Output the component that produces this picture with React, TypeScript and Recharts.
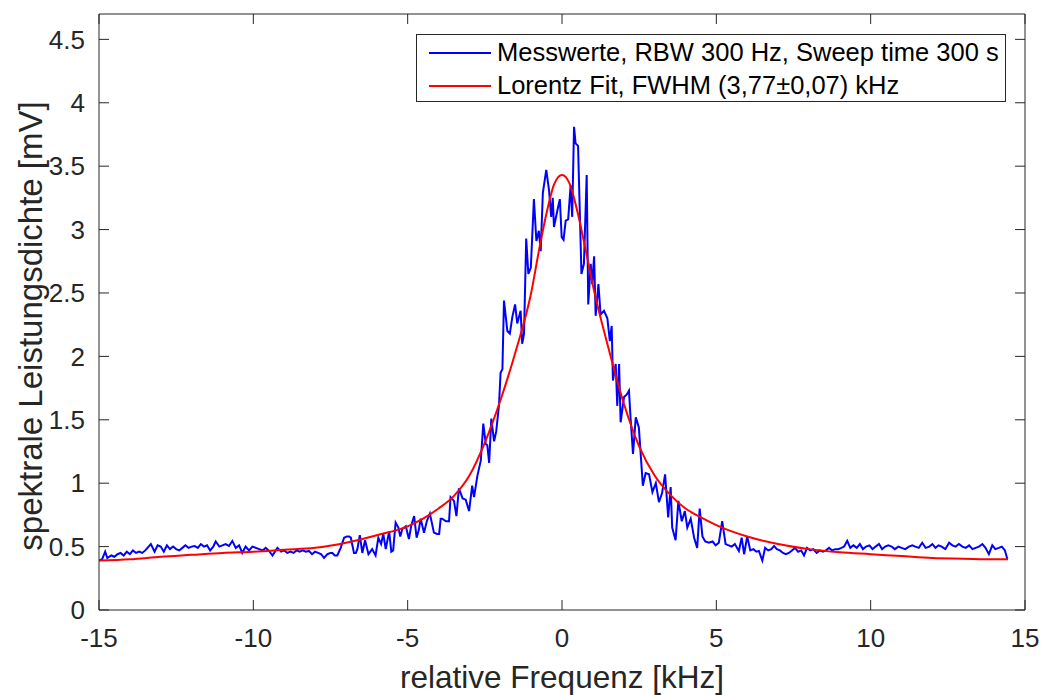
import React from 'react';
import { LineChart, Line, XAxis, YAxis, Label } from 'recharts';

const measFreq = [
  -15.0, -14.9, -14.8, -14.73, -14.6, -14.5, -14.4, -14.3, -14.2, -14.1, -14.0, -13.9, -13.8, -13.7, -13.6, -13.5,
  -13.43, -13.32, -13.2, -13.1, -13.0, -12.9, -12.8, -12.7, -12.6, -12.5, -12.4, -12.3, -12.2, -12.1, -12.0, -11.9,
  -11.8, -11.7, -11.6, -11.5, -11.4, -11.3, -11.22, -11.1, -11.0, -10.9, -10.79, -10.68, -10.57, -10.46, -10.36,
  -10.25, -10.14, -10.03, -9.92, -9.81, -9.7, -9.6, -9.49, -9.38, -9.22, -9.1, -9.0, -8.9, -8.8, -8.7, -8.6, -8.5,
  -8.4, -8.3, -8.2, -8.1, -8.0, -7.9, -7.8, -7.71, -7.6, -7.5, -7.44, -7.36, -7.28, -7.17, -7.06, -6.97, -6.9,
  -6.84, -6.74, -6.68, -6.63, -6.55, -6.47, -6.38, -6.27, -6.15, -6.04, -5.95, -5.86, -5.79, -5.71, -5.6, -5.53,
  -5.47, -5.39, -5.3, -5.24, -5.17, -5.06, -4.96, -4.88, -4.79, -4.71, -4.64, -4.58, -4.47, -4.38, -4.28, -4.15,
  -4.05, -3.98, -3.93, -3.88, -3.76, -3.66, -3.61, -3.5, -3.42, -3.34, -3.22, -3.12, -3.01, -2.91, -2.85, -2.74,
  -2.63, -2.55, -2.47, -2.42, -2.36, -2.29, -2.2, -2.13, -2.04, -1.99, -1.93, -1.88, -1.77, -1.69, -1.61, -1.52,
  -1.45, -1.34, -1.29, -1.23, -1.16, -1.09, -1.01, -0.91, -0.83, -0.75, -0.69, -0.62, -0.51, -0.42, -0.35, -0.3,
  -0.26, -0.15, -0.07, -0.01, 0.05, 0.12, 0.2, 0.28, 0.33, 0.39, 0.44, 0.52, 0.63, 0.71, 0.8, 0.85, 0.93, 0.98,
  1.04, 1.09, 1.18, 1.25, 1.36, 1.47, 1.55, 1.61, 1.65, 1.74, 1.79, 1.85, 1.9, 2.01, 2.1, 2.17, 2.22, 2.3, 2.39,
  2.49, 2.62, 2.71, 2.82, 2.93, 3.04, 3.14, 3.24, 3.34, 3.44, 3.52, 3.57, 3.68, 3.77, 3.88, 3.98, 4.06, 4.17, 4.28,
  4.38, 4.46, 4.55, 4.64, 4.76, 4.88, 4.98, 5.08, 5.19, 5.3, 5.4, 5.5, 5.6, 5.73, 5.82, 5.9, 6.0, 6.1, 6.2, 6.3,
  6.38, 6.49, 6.58, 6.68, 6.78, 6.87, 6.96, 7.06, 7.16, 7.25, 7.35, 7.45, 7.55, 7.65, 7.75, 7.84, 7.94, 8.04, 8.14,
  8.25, 8.35, 8.45, 8.55, 8.65, 8.75, 8.85, 8.95, 9.05, 9.14, 9.24, 9.34, 9.44, 9.55, 9.65, 9.75, 9.85, 9.96,
  10.06, 10.16, 10.27, 10.37, 10.47, 10.57, 10.68, 10.78, 10.9, 11.0, 11.12, 11.24, 11.35, 11.45, 11.56, 11.67,
  11.78, 11.9, 12.0, 12.1, 12.2, 12.3, 12.42, 12.54, 12.65, 12.75, 12.86, 12.97, 13.08, 13.19, 13.3, 13.4, 13.51,
  13.62, 13.72, 13.83, 13.94, 14.04, 14.15, 14.25, 14.35, 14.43,
];
const measVal = [
  0.39, 0.4, 0.46, 0.41, 0.43, 0.42, 0.44, 0.45, 0.43, 0.46, 0.44, 0.47, 0.45, 0.46, 0.45, 0.47,
  0.49, 0.52, 0.46, 0.51, 0.5, 0.46, 0.51, 0.48, 0.5, 0.48, 0.47, 0.49, 0.51, 0.49, 0.5, 0.505,
  0.49, 0.52, 0.5, 0.51, 0.47, 0.5, 0.54, 0.5, 0.51, 0.52, 0.505, 0.545, 0.49, 0.51, 0.45,
  0.5, 0.47, 0.5, 0.49, 0.48, 0.47, 0.49, 0.466, 0.43, 0.49, 0.46, 0.47, 0.45, 0.46, 0.45, 0.47, 0.46,
  0.47, 0.46, 0.466, 0.44, 0.46, 0.45, 0.44, 0.41, 0.44, 0.45, 0.45, 0.43, 0.43, 0.49, 0.57, 0.58, 0.58,
  0.57, 0.45, 0.45, 0.48, 0.59, 0.45, 0.55, 0.44, 0.48, 0.43, 0.57, 0.52, 0.6, 0.48, 0.62, 0.46,
  0.47, 0.69, 0.65, 0.58, 0.64, 0.66, 0.56, 0.67, 0.74, 0.57, 0.63, 0.72, 0.61, 0.7, 0.76, 0.61,
  0.6, 0.6, 0.72, 0.72, 0.7, 0.7, 0.89, 0.86, 0.74, 0.96, 0.88, 0.87, 0.78, 0.98, 0.89, 1.06,
  1.18, 1.47, 1.31, 1.3, 1.16, 1.51, 1.33, 1.41, 1.62, 1.87, 1.9, 2.44, 2.2, 2.18, 2.31, 2.41,
  2.26, 2.36, 2.1, 2.18, 2.93, 2.65, 2.7, 3.24, 2.91, 2.99, 2.83, 3.29, 3.47, 3.31, 3.1, 3.25,
  3.02, 3.15, 3.24, 2.94, 2.92, 3.07, 3.08, 3.35, 3.1, 3.81, 3.68, 3.66, 2.65, 2.73, 3.43, 2.41, 2.73, 2.57,
  2.79, 2.32, 2.57, 2.33, 2.36, 2.3, 2.12, 2.24, 1.81, 1.94, 1.61, 1.94, 1.48, 1.68, 1.7, 1.73, 1.52, 1.23, 1.52,
  1.44, 0.98, 1.08, 1.07, 0.93, 1.0, 0.85, 0.92, 1.07, 0.73, 0.97, 0.65, 0.55, 0.86, 0.7, 0.78, 0.65, 0.72, 0.57,
  0.49, 0.8, 0.58, 0.54, 0.53, 0.54, 0.51, 0.53, 0.7, 0.52, 0.51, 0.5, 0.52, 0.466, 0.57, 0.44, 0.58, 0.47, 0.48, 0.46,
  0.466, 0.39, 0.49, 0.47, 0.48, 0.505, 0.48, 0.47, 0.45, 0.44, 0.45, 0.47, 0.49, 0.46, 0.47, 0.43, 0.49, 0.47, 0.48,
  0.45, 0.47, 0.46, 0.47, 0.49, 0.47, 0.48, 0.48, 0.49, 0.5, 0.545, 0.49, 0.51, 0.49, 0.52, 0.48, 0.5, 0.51,
  0.48, 0.5, 0.52, 0.48, 0.5, 0.51, 0.5, 0.48, 0.5, 0.49, 0.48, 0.5, 0.51, 0.5, 0.49, 0.53,
  0.49, 0.5, 0.52, 0.49, 0.51, 0.5, 0.48, 0.53, 0.51, 0.5, 0.52, 0.5, 0.49, 0.51, 0.48, 0.49, 0.5,
  0.52, 0.49, 0.44, 0.51, 0.48, 0.49, 0.5, 0.47, 0.4,
];

// Lorentz fit
const fitFreq = [
  -15, -14, -13, -12, -11, -10, -9, -8, -7, -6, -5, -4.5, -4, -3.5, -3, -2.5, -2, -1.5, -1, -0.75, -0.5, -0.25, 0,
  0.25, 0.5, 0.75, 1, 1.5, 2, 2.5, 3, 3.5, 4, 4.5, 5, 5.5, 6, 7, 8, 9, 10, 11, 12, 13, 14, 14.45,
];
const fitVal = [
  0.39, 0.4, 0.42, 0.435, 0.45, 0.46, 0.475, 0.49, 0.53, 0.59, 0.66, 0.72, 0.8, 0.9, 1.06, 1.32, 1.65, 2.04, 2.5,
  2.83, 3.13, 3.36, 3.43, 3.36, 3.14, 2.86, 2.56, 2.07, 1.63, 1.29, 1.06, 0.91, 0.8, 0.73, 0.67, 0.62, 0.58, 0.52,
  0.48, 0.455, 0.44, 0.425, 0.41, 0.405, 0.4, 0.4,
];

const xTicks = [-15, -10, -5, 0, 5, 10, 15];
const yTicks = [0, 0.5, 1, 1.5, 2, 2.5, 3, 3.5, 4, 4.5];

const seriesNames = ['Messwerte, RBW 300 Hz, Sweep time 300 s', 'Lorentz Fit, FWHM (3,77\u00b10,07) kHz'];
const seriesColors = ['#0000ff', '#ff0000'];

const measData = measFreq.map((f, i) => ({ f, v: measVal[i] }));
const fitData = fitFreq.map((f, i) => ({ f, v: fitVal[i] }));

const FONT = '"Liberation Sans", Arial, Helvetica, sans-serif';
const AXIS = '#262626';
const TICK_LEN = 10;
const X_GAP = 19;
const Y_GAP = 14;

// ticks point into the axes, MATLAB style; label sits outside
const BottomTick = (p: any) => {
  const y0 = p.y - X_GAP;
  return (
    <g>
      <line x1={p.x} x2={p.x} y1={y0} y2={y0 - TICK_LEN} stroke={AXIS} strokeWidth={1} />
      <text x={p.x} y={p.y} dy="0.71em" textAnchor="middle" fill={AXIS} fontSize={26} fontFamily={FONT}>
        {String(p.payload.value)}
      </text>
    </g>
  );
};
const LeftTick = (p: any) => {
  const x0 = p.x + Y_GAP;
  return (
    <g>
      <line x1={x0} x2={x0 + TICK_LEN} y1={p.y} y2={p.y} stroke={AXIS} strokeWidth={1} />
      <text x={p.x} y={p.y} dy="0.355em" textAnchor="end" fill={AXIS} fontSize={26} fontFamily={FONT}>
        {String(p.payload.value)}
      </text>
    </g>
  );
};
const TopTick = (p: any) => (
  <line x1={p.x} x2={p.x} y1={p.y} y2={p.y + TICK_LEN} stroke={AXIS} strokeWidth={1} />
);
const RightTick = (p: any) => (
  <line x1={p.x} x2={p.x - TICK_LEN} y1={p.y} y2={p.y} stroke={AXIS} strokeWidth={1} />
);

// MATLAB-style legend box, top right inside the axes
const LegendBox = () => (
  <div
    style={{
      position: 'absolute',
      left: 416,
      top: 34,
      width: 588,
      height: 66,
      border: `1px solid ${AXIS}`,
      background: '#fff',
      fontFamily: FONT,
      fontSize: 25.5,
      color: '#000',
    }}
  >
    {seriesNames.map((name, i) => (
      <div
        key={name}
        style={{ position: 'absolute', left: 0, top: 1 + i * 33, height: 33, display: 'flex', alignItems: 'center', whiteSpace: 'nowrap' }}
      >
        <svg width={80} height={10} style={{ flex: 'none' }}>
          <line x1={12} x2={74} y1={5} y2={5} stroke={seriesColors[i]} strokeWidth={2} />
        </svg>
        <span>{name}</span>
      </div>
    ))}
  </div>
);

const App: React.FC = () => {
  return (
    <div style={{ position: 'absolute', left: 0, top: 0, width: 1042, height: 695, background: '#fff' }}>
      <LineChart width={1042} height={695} margin={{ top: 13, right: 16, bottom: 0, left: 0 }}>
        <XAxis
          xAxisId="b"
          dataKey="f"
          type="number"
          domain={[-15, 15]}
          ticks={xTicks}
          allowDataOverflow
          height={85}
          stroke={AXIS}
          tickLine={false}
          tickSize={0}
          tickMargin={X_GAP}
          tick={<BottomTick />}
        >
          <Label
            value="relative Frequenz [kHz]"
            position="insideBottom"
            offset={7}
            style={{ fill: AXIS, fontSize: 31.5, fontFamily: FONT }}
          />
        </XAxis>
        <XAxis
          xAxisId="t"
          dataKey="f"
          orientation="top"
          type="number"
          domain={[-15, 15]}
          ticks={xTicks}
          allowDataOverflow
          height={1}
          stroke={AXIS}
          tickLine={false}
          tickSize={0}
          tickMargin={0}
          tick={<TopTick />}
        />
        <YAxis
          yAxisId="l"
          type="number"
          domain={[0, 4.7]}
          ticks={yTicks}
          allowDataOverflow
          width={99}
          stroke={AXIS}
          tickLine={false}
          tickSize={0}
          tickMargin={Y_GAP}
          tick={<LeftTick />}
        >
          <Label
            content={(props: any) => {
              const vb = props.viewBox || {};
              const cx = 30;
              const cy = (vb.y ?? 14) + (vb.height ?? 596) / 2 + 14;
              return (
                <text
                  x={cx}
                  y={cy}
                  transform={`rotate(-90 ${cx} ${cy})`}
                  textAnchor="middle"
                  dominantBaseline="central"
                  style={{ fill: AXIS, fontSize: 33, fontFamily: FONT }}
                >
                  spektrale Leistungsdichte [mV]
                </text>
              );
            }}
          />
        </YAxis>
        <YAxis
          yAxisId="r"
          orientation="right"
          type="number"
          domain={[0, 4.7]}
          ticks={yTicks}
          allowDataOverflow
          width={1}
          stroke={AXIS}
          tickLine={false}
          tickSize={0}
          tickMargin={0}
          tick={<RightTick />}
        />
        <Line
          xAxisId="b"
          yAxisId="l"
          data={measData}
          dataKey="v"
          name={seriesNames[0]}
          type="linear"
          stroke={seriesColors[0]}
          strokeWidth={2}
          dot={false}
          isAnimationActive={false}
        />
        <Line
          xAxisId="b"
          yAxisId="l"
          data={fitData}
          dataKey="v"
          name={seriesNames[1]}
          type="monotone"
          stroke={seriesColors[1]}
          strokeWidth={2}
          dot={false}
          isAnimationActive={false}
        />
        {/* carrier for the mirrored top/right axes of the box */}
        <Line
          xAxisId="t"
          yAxisId="r"
          data={fitData}
          dataKey="v"
          stroke="none"
          dot={false}
          activeDot={false}
          legendType="none"
          isAnimationActive={false}
        />
      </LineChart>
      <LegendBox />
    </div>
  );
};

export default App;
